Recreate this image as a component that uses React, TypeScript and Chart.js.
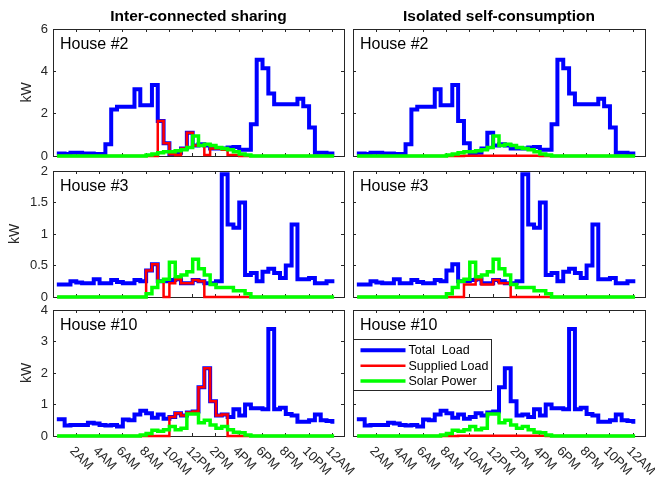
import React, { useEffect, useRef } from "react";
import { Chart, registerables } from "chart.js";

Chart.register(...registerables);

const FONT = '"Liberation Sans", Arial, Helvetica, sans-serif';
Chart.defaults.font.family = FONT;

// ---------- data ----------
const HOURS = [
  0.5, 1, 1.5, 2, 2.5, 3, 3.5, 4, 4.5, 5, 5.5, 6, 6.5, 7, 7.5, 8,
  8.5, 9, 9.5, 10, 10.5, 11, 11.5, 12, 12.5, 13, 13.5, 14, 14.5, 15, 15.5, 16,
  16.5, 17, 17.5, 18, 18.5, 19, 19.5, 20, 20.5, 21, 21.5, 22, 22.5, 23, 23.5, 24,
];

const X_TICKS = [2, 4, 6, 8, 10, 12, 14, 16, 18, 20, 22, 24];
const X_TICK_LABELS = ["2AM", "4AM", "6AM", "8AM", "10AM", "12PM", "2PM", "4PM", "6PM", "8PM", "10PM", "12AM"];

const Y_TICKS_H2 = [0, 2, 4, 6];
const Y_TICKS_H3 = [0, 0.5, 1, 1.5, 2];
const Y_TICKS_H10 = [0, 1, 2, 3, 4];

const COLUMN_TITLES = ["Inter-connected sharing", "Isolated self-consumption"];
const SERIES_NAMES = ["Total  Load", "Supplied Load", "Solar Power"];

// House #2
const H2_LOAD = [
  0.12, 0.10, 0.15, 0.15, 0.12, 0.12, 0.10, 0.10,
  0.55, 2.20, 2.33, 2.33, 2.33, 3.15, 2.40, 2.40,
  3.35, 1.65, 0.60, 0.10, 0.15, 0.35, 1.10, 0.50,
  0.55, 0.50, 0.35, 0.35, 0.35, 0.40, 0.42, 0.30,
  0.30, 1.50, 4.55, 4.15, 2.95, 2.45, 2.45, 2.45,
  2.45, 2.70, 2.35, 1.35, 0.15, 0.15, 0.12, 0.12,
];
const H2_SUPPLIED_SHARING = [
  0, 0, 0, 0, 0, 0, 0, 0,
  0, 0, 0, 0, 0, 0, 0, 0,
  0, 1.65, 0.60, 0.08, 0.05, 0.35, 1.10, 0.50,
  0.50, 0.05, 0.35, 0.35, 0.30, 0.05, 0.05, 0,
  0, 0, 0, 0, 0, 0, 0, 0,
  0, 0, 0, 0, 0, 0, 0, 0,
];
const H2_SUPPLIED_ISOLATED = [
  0, 0, 0, 0, 0, 0, 0, 0,
  0, 0, 0, 0, 0, 0, 0, 0,
  0, 0, 0.01, 0.01, 0.01, 0.01, 0.01, 0.01,
  0.01, 0.01, 0.01, 0.01, 0.01, 0.01, 0.01, 0,
  0, 0, 0, 0, 0, 0, 0, 0,
  0, 0, 0, 0, 0, 0, 0, 0,
];
const H2_SOLAR = [
  0, 0, 0, 0, 0, 0, 0, 0,
  0, 0, 0, 0, 0, 0, 0, 0.05,
  0.10, 0.15, 0.20, 0.20, 0.25, 0.30, 0.40, 0.95,
  0.50, 0.55, 0.50, 0.40, 0.35, 0.30, 0.20, 0.10,
  0.05, 0, 0, 0, 0, 0, 0, 0,
  0, 0, 0, 0, 0, 0, 0, 0,
];

// House #3
const H3_LOAD = [
  0.20, 0.20, 0.25, 0.23, 0.22, 0.22, 0.28, 0.22,
  0.22, 0.27, 0.24, 0.22, 0.22, 0.27, 0.25, 0.42,
  0.52, 0.25, 0.25, 0.27, 0.28, 0.22, 0.22, 0.27,
  0.25, 0.22, 0.22, 0.25, 1.95, 1.15, 1.10, 1.50,
  0.35, 0.38, 0.25, 0.40, 0.45, 0.38, 0.30, 0.50,
  1.15, 0.28, 0.28, 0.30, 0.22, 0.22, 0.25, 0.25,
];
const H3_SUPPLIED_SHARING = [
  0, 0, 0, 0, 0, 0, 0, 0,
  0, 0, 0, 0, 0, 0, 0, 0.42,
  0.52, 0.25, 0, 0.22, 0.28, 0.22, 0.22, 0.27,
  0.25, 0, 0, 0, 0, 0, 0, 0,
  0, 0, 0, 0, 0, 0, 0, 0,
  0, 0, 0, 0, 0, 0, 0, 0,
];
const H3_SUPPLIED_ISOLATED = [
  0, 0, 0, 0, 0, 0, 0, 0,
  0, 0, 0, 0, 0, 0, 0, 0,
  0, 0, 0.20, 0.20, 0.28, 0.20, 0.20, 0.27,
  0.22, 0.22, 0, 0, 0, 0, 0, 0,
  0, 0, 0, 0, 0, 0, 0, 0,
  0, 0, 0, 0, 0, 0, 0, 0,
];
const H3_SOLAR = [
  0, 0, 0, 0, 0, 0, 0, 0,
  0, 0, 0, 0, 0, 0, 0, 0.05,
  0.15, 0.25, 0.28, 0.55, 0.32, 0.35, 0.40, 0.60,
  0.45, 0.35, 0.20, 0.15, 0.15, 0.15, 0.10, 0.10,
  0.05, 0, 0, 0, 0, 0, 0, 0,
  0, 0, 0, 0, 0, 0, 0, 0,
];

// House #10
const H10_LOAD = [
  0.53, 0.33, 0.35, 0.35, 0.35, 0.42, 0.40, 0.35,
  0.33, 0.35, 0.30, 0.52, 0.50, 0.68, 0.80, 0.72,
  0.58, 0.68, 0.55, 0.60, 0.72, 0.65, 0.75, 0.78,
  1.55, 2.15, 1.10, 0.65, 0.68, 0.60, 0.85, 0.65,
  1.00, 0.88, 0.88, 0.85, 3.40, 0.85, 0.90, 0.70,
  0.65, 0.45, 0.45, 0.50, 0.68, 0.50, 0.48, 0.45,
];
const H10_SUPPLIED_SHARING = [
  0, 0, 0, 0, 0, 0, 0, 0,
  0, 0, 0, 0, 0, 0, 0, 0,
  0, 0, 0, 0.60, 0.72, 0.65, 0.75, 0.78,
  1.55, 2.15, 1.10, 0.65, 0.68, 0, 0, 0,
  0, 0, 0, 0, 0, 0, 0, 0,
  0, 0, 0, 0, 0, 0, 0, 0,
];
const H10_SUPPLIED_ISOLATED = [
  0, 0, 0, 0, 0, 0, 0, 0,
  0, 0, 0, 0, 0, 0, 0, 0,
  0, 0.01, 0.01, 0.01, 0.01, 0.01, 0.01, 0.01,
  0.01, 0.01, 0.01, 0.01, 0.01, 0.01, 0.01, 0.01,
  0, 0, 0, 0, 0, 0, 0, 0,
  0, 0, 0, 0, 0, 0, 0, 0,
];
const H10_SOLAR = [
  0, 0, 0, 0, 0, 0, 0, 0,
  0, 0, 0, 0, 0, 0, 0.03, 0.08,
  0.18, 0.15, 0.20, 0.30, 0.20, 0.25, 0.70, 0.70,
  0.42, 0.50, 0.35, 0.25, 0.30, 0.20, 0.12, 0.10,
  0.03, 0, 0, 0, 0, 0, 0, 0,
  0, 0, 0, 0, 0, 0, 0, 0,
];

// ---------- layout / style ----------
const CANVAS_W = 655;
const CANVAS_H = 477;
const COLS = [
  { left: 53, right: 344 },
  { left: 353, right: 645 },
];
const ROWS = [
  { top: 29, bottom: 156, kwOffset: 27 },
  { top: 171, bottom: 297, kwOffset: 15 },
  { top: 310, bottom: 436, kwOffset: 27 },
];
const AXIS_COLOR = "#262626";
const BLUE = "#0000FF";
const RED = "#FF0000";
const GREEN = "#00FF00";

type PanelDef = {
  row: number;
  col: number;
  house: string;
  load: number[];
  supplied: number[];
  solar: number[];
  yMax: number;
  yTicks: number[];
};

const PANELS: PanelDef[] = [
  { row: 0, col: 0, house: "House #2", load: H2_LOAD, supplied: H2_SUPPLIED_SHARING, solar: H2_SOLAR, yMax: 6, yTicks: Y_TICKS_H2 },
  { row: 0, col: 1, house: "House #2", load: H2_LOAD, supplied: H2_SUPPLIED_ISOLATED, solar: H2_SOLAR, yMax: 6, yTicks: Y_TICKS_H2 },
  { row: 1, col: 0, house: "House #3", load: H3_LOAD, supplied: H3_SUPPLIED_SHARING, solar: H3_SOLAR, yMax: 2, yTicks: Y_TICKS_H3 },
  { row: 1, col: 1, house: "House #3", load: H3_LOAD, supplied: H3_SUPPLIED_ISOLATED, solar: H3_SOLAR, yMax: 2, yTicks: Y_TICKS_H3 },
  { row: 2, col: 0, house: "House #10", load: H10_LOAD, supplied: H10_SUPPLIED_SHARING, solar: H10_SOLAR, yMax: 4, yTicks: Y_TICKS_H10 },
  { row: 2, col: 1, house: "House #10", load: H10_LOAD, supplied: H10_SUPPLIED_ISOLATED, solar: H10_SOLAR, yMax: 4, yTicks: Y_TICKS_H10 },
];

const decorPlugin = {
  id: "panelDecor",
  afterDraw(chart: any, _args: any, opts: any) {
    const { ctx, chartArea } = chart;
    ctx.save();
    // house label
    ctx.font = `16px ${FONT}`;
    ctx.fillStyle = "#000";
    ctx.textAlign = "left";
    ctx.textBaseline = "alphabetic";
    ctx.fillText(opts.house, chartArea.left + 7, chartArea.top + 19.5);

    // rotated x tick labels
    if (opts.xLabels) {
      const xs = chart.scales.x;
      ctx.font = `13px ${FONT}`;
      ctx.fillStyle = AXIS_COLOR;
      X_TICKS.forEach((v, i) => {
        const px = xs.getPixelForValue(v);
        ctx.save();
        ctx.translate(px - 4.5, chartArea.bottom + 13);
        ctx.rotate(Math.PI / 4);
        ctx.textAlign = "left";
        ctx.textBaseline = "middle";
        ctx.fillText(X_TICK_LABELS[i], 0, 0);
        ctx.restore();
      });
    }

    // legend box
    if (opts.legend) {
      const bx = chartArea.left + 0.5;
      const by = chartArea.top + 29.5;
      const bw = 138;
      const bh = 51;
      ctx.fillStyle = "#fff";
      ctx.fillRect(bx, by, bw, bh);
      ctx.strokeStyle = AXIS_COLOR;
      ctx.lineWidth = 1;
      ctx.strokeRect(bx, by, bw, bh);
      ctx.font = `12.5px ${FONT}`;
      ctx.textBaseline = "middle";
      ctx.textAlign = "left";
      const rowsY = [10.7, 26.2, 41.5];
      chart.data.datasets.forEach((ds: any, i: number) => {
        const y = by + rowsY[i];
        ctx.strokeStyle = ds.borderColor;
        ctx.lineWidth = ds.borderWidth;
        ctx.lineCap = "butt";
        ctx.beginPath();
        ctx.moveTo(bx + 7, y);
        ctx.lineTo(bx + 52, y);
        ctx.stroke();
        ctx.fillStyle = "#000";
        ctx.fillText(ds.label, bx + 55, y + 0.5);
      });
    }
    ctx.restore();
  },
};

function makeConfig(p: PanelDef): any {
  const col = COLS[p.col];
  const row = ROWS[p.row];
  const isLeft = p.col === 0;
  const isTop = p.row === 0;
  const isBottom = p.row === 2;
  const yAxisWidth = isLeft ? col.left : 10;
  const toPts = (arr: number[]) => HOURS.map((h, i) => ({ x: h, y: arr[i] }));

  const tickGrid = {
    display: true,
    drawOnChartArea: false,
    drawTicks: true,
    tickLength: -3,
    color: AXIS_COLOR,
    lineWidth: 1,
  };
  const border = { display: true, color: AXIS_COLOR, width: 1 };
  const setX = (axis: any) => {
    axis.ticks = X_TICKS.map((v) => ({ value: v }));
  };
  const setY = (axis: any) => {
    axis.ticks = p.yTicks.map((v) => ({ value: v }));
  };

  const lineCommon = {
    stepped: "before",
    pointRadius: 0,
    pointHoverRadius: 0,
    fill: false,
    clip: false,
    borderJoinStyle: "miter",
    borderCapStyle: "square",
    tension: 0,
  };

  const titleFont = 15.5;
  const titleLine = titleFont * 1.2;

  return {
    type: "line",
    data: {
      datasets: [
        { ...lineCommon, label: SERIES_NAMES[0], data: toPts(p.load), borderColor: BLUE, borderWidth: 4, order: 3 },
        { ...lineCommon, label: SERIES_NAMES[1], data: toPts(p.supplied), borderColor: RED, borderWidth: 2.5, order: 2 },
        { ...lineCommon, label: SERIES_NAMES[2], data: toPts(p.solar), borderColor: GREEN, borderWidth: 3.5, order: 1 },
      ],
    },
    options: {
      responsive: false,
      maintainAspectRatio: false,
      animation: false,
      devicePixelRatio: 1,
      events: [],
      layout: {
        padding: {
          left: col.left - yAxisWidth,
          top: isTop ? 0 : row.top,
          right: CANVAS_W - col.right,
          bottom: CANVAS_H - row.bottom,
        },
      },
      plugins: {
        legend: { display: false },
        tooltip: { enabled: false },
        title: {
          display: isTop,
          text: COLUMN_TITLES[p.col],
          fullSize: false,
          color: "#000",
          font: { size: titleFont, weight: "bold", family: FONT },
          padding: { top: 16.5 - titleLine / 2, bottom: row.top - (16.5 + titleLine / 2) },
        },
        panelDecor: { house: p.house, xLabels: isBottom, legend: isBottom && p.col === 1 },
      },
      scales: {
        x: {
          type: "linear",
          position: "bottom",
          min: 0,
          max: 25,
          afterBuildTicks: setX,
          afterFit: (a: any) => {
            a.height = 0;
          },
          ticks: { display: false },
          grid: tickGrid,
          border,
        },
        x2: {
          type: "linear",
          position: "top",
          min: 0,
          max: 25,
          afterBuildTicks: setX,
          afterFit: (a: any) => {
            a.height = 0;
          },
          ticks: { display: false },
          grid: tickGrid,
          border,
        },
        y: {
          type: "linear",
          position: "left",
          min: 0,
          max: p.yMax,
          afterBuildTicks: setY,
          afterFit: (a: any) => {
            a.width = yAxisWidth;
          },
          ticks: {
            display: isLeft,
            color: AXIS_COLOR,
            font: { size: 13, family: FONT },
            padding: 8,
            callback: (v: any) => String(v),
          },
          title: {
            display: isLeft,
            text: "kW",
            color: AXIS_COLOR,
            font: { size: 14, family: FONT },
            padding: { top: row.kwOffset - 8.4, bottom: 0 },
          },
          grid: tickGrid,
          border,
        },
        y2: {
          type: "linear",
          position: "right",
          min: 0,
          max: p.yMax,
          afterBuildTicks: setY,
          afterFit: (a: any) => {
            a.width = 0;
          },
          ticks: { display: false },
          grid: tickGrid,
          border,
        },
      },
    },
    plugins: [decorPlugin],
  };
}

function Panel({ def }: { def: PanelDef }) {
  const ref = useRef<HTMLCanvasElement | null>(null);
  useEffect(() => {
    if (!ref.current) return;
    const chart = new Chart(ref.current, makeConfig(def));
    return () => chart.destroy();
  }, [def]);
  return (
    <canvas
      ref={ref}
      width={CANVAS_W}
      height={CANVAS_H}
      style={{ position: "absolute", left: 0, top: 0, width: CANVAS_W, height: CANVAS_H }}
    />
  );
}

export default function App() {
  return (
    <div
      style={{
        position: "fixed",
        left: 0,
        top: 0,
        width: CANVAS_W,
        height: CANVAS_H,
        background: "#fff",
        overflow: "hidden",
      }}
    >
      {PANELS.map((p, i) => (
        <Panel key={i} def={p} />
      ))}
    </div>
  );
}
